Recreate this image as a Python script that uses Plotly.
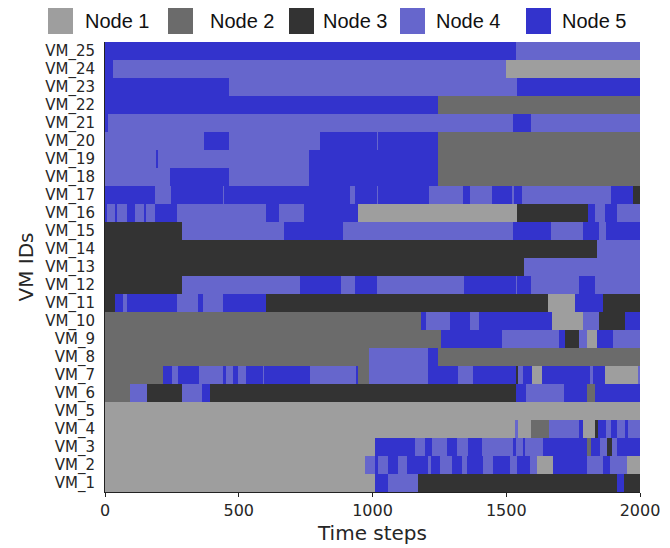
import plotly.graph_objects as go

# ---- data: each VM is a list of [start_time, node] change points (segment ends at next start or 2000)
T_END = 2000
node_names = ["Node 1", "Node 2", "Node 3", "Node 4", "Node 5"]
node_colors = ["#9e9e9e", "#6b6b6b", "#333333", "#6666cc", "#3333cc"]
vm_labels = [f"VM_{i}" for i in range(1, 26)]
x_ticks = [0, 500, 1000, 1500, 2000]

vm_1 = [[0, 1], [1009, 5], [1059, 4], [1171, 3], [1915, 5], [1940, 3]]
vm_2 = [[0, 1], [972, 4], [1009, 5], [1022, 4], [1059, 5], [1097, 4], [1130, 5], [1209, 4], [1217, 5],
        [1252, 4], [1296, 5], [1333, 4], [1352, 5], [1414, 4], [1452, 5], [1514, 4], [1539, 5], [1589, 4],
        [1614, 1], [1673, 5], [1800, 4], [1863, 5], [1888, 4], [1950, 1]]
vm_3 = [[0, 1], [1009, 5], [1159, 4], [1196, 5], [1221, 4], [1280, 5], [1317, 4], [1358, 5], [1408, 4],
        [1524, 5], [1535, 4], [1561, 5], [1570, 4], [1639, 5], [1800, 2], [1815, 5], [1850, 4], [1875, 3],
        [1894, 4], [1913, 5]]
vm_4 = [[0, 1], [1533, 4], [1545, 1], [1591, 2], [1661, 4], [1773, 5], [1786, 1], [1832, 3], [1844, 5],
        [1873, 4], [1890, 5], [1913, 4], [1944, 5], [1956, 4]]
vm_5 = [[0, 1]]
vm_6 = [[0, 2], [93, 4], [156, 3], [287, 4], [361, 5], [393, 3], [1536, 5], [1573, 4], [1716, 5],
        [1800, 2], [1832, 5]]
vm_7 = [[0, 2], [215, 5], [249, 4], [274, 5], [353, 4], [442, 5], [452, 4], [477, 5], [498, 4], [526, 5],
        [592, 4], [595, 5], [766, 4], [938, 5], [947, 2], [988, 4], [1209, 5], [1321, 4], [1377, 5],
        [1535, 3], [1545, 4], [1564, 5], [1595, 1], [1632, 5], [1813, 4], [1823, 5], [1869, 1], [1994, 4]]
vm_8 = [[0, 2], [987, 4], [1209, 5], [1246, 2]]
vm_9 = [[0, 2], [1255, 5], [1483, 4], [1698, 5], [1720, 3], [1773, 4], [1803, 1], [1840, 5], [1900, 4]]
vm_10 = [[0, 2], [1180, 5], [1200, 4], [1290, 5], [1364, 4], [1399, 5], [1670, 1], [1788, 4], [1848, 3],
         [1944, 5]]
vm_11 = [[0, 3], [37, 5], [69, 4], [83, 5], [268, 4], [346, 5], [368, 4], [442, 5], [600, 3], [1657, 1],
         [1757, 5], [1863, 3]]
vm_12 = [[0, 3], [287, 4], [729, 5], [881, 4], [935, 5], [1016, 4], [1342, 5], [1535, 4], [1541, 5],
         [1594, 4], [1773, 5], [1832, 4]]
vm_13 = [[0, 3], [1566, 4]]
vm_14 = [[0, 3], [1838, 4]]
vm_15 = [[0, 3], [287, 4], [669, 5], [888, 4], [1524, 5], [1667, 4], [1788, 5], [1848, 4], [1873, 5]]
vm_16 = [[0, 5], [8, 4], [37, 5], [46, 4], [83, 5], [112, 4], [146, 5], [152, 4], [187, 5], [268, 4],
         [600, 5], [650, 4], [744, 5], [947, 1], [1539, 3], [1807, 5], [1832, 4], [1869, 5], [1915, 4]]
vm_17 = [[0, 5], [187, 4], [245, 5], [441, 4], [446, 5], [916, 4], [935, 5], [1015, 4], [1021, 5],
         [1212, 4], [1340, 5], [1364, 4], [1445, 5], [1520, 4], [1529, 5], [1558, 4], [1890, 5], [1975, 3]]
vm_18 = [[0, 4], [243, 5], [465, 4], [764, 5], [1246, 2]]
vm_19 = [[0, 4], [194, 5], [199, 4], [764, 5], [1246, 2]]
vm_20 = [[0, 4], [371, 5], [465, 4], [804, 5], [1016, 4], [1022, 5], [1246, 2]]
vm_21 = [[0, 5], [12, 4], [1524, 5], [1594, 4]]
vm_22 = [[0, 5], [1246, 2]]
vm_23 = [[0, 5], [465, 4], [1540, 5]]
vm_24 = [[0, 5], [30, 4], [1500, 1]]
vm_25 = [[0, 5], [1535, 4]]

vm_series = [vm_1, vm_2, vm_3, vm_4, vm_5, vm_6, vm_7, vm_8, vm_9, vm_10, vm_11, vm_12, vm_13,
             vm_14, vm_15, vm_16, vm_17, vm_18, vm_19, vm_20, vm_21, vm_22, vm_23, vm_24, vm_25]

# ---- build segments per node
seg = {k: {"y": [], "base": [], "x": []} for k in range(1, 6)}
for label, changes in zip(vm_labels, vm_series):
    for i, (start, node) in enumerate(changes):
        end = changes[i + 1][0] if i + 1 < len(changes) else T_END
        seg[node]["y"].append(label)
        seg[node]["base"].append(start)
        seg[node]["x"].append(end - start)

fig = go.Figure()
for k in range(1, 6):
    fig.add_trace(go.Bar(
        orientation="h", y=seg[k]["y"], x=seg[k]["x"], base=seg[k]["base"],
        name=node_names[k - 1], marker=dict(color=node_colors[k - 1], line=dict(width=0)),
        width=1.0, showlegend=False,
    ))

# ---- custom legend (large square swatches)
L, R, T, B = 105, 30, 42, 56
W, H = 670, 548
pw, ph = W - L - R, H - T - B
sq_left = [48, 168, 289, 400, 526]
txt_left = [83, 208, 321, 434, 560]
shapes = []
annotations = []
for i in range(5):
    x0 = (sq_left[i] - L) / pw
    x1 = (sq_left[i] + 25 - L) / pw
    y0 = (H - B - 34) / ph
    y1 = (H - B - 8) / ph
    shapes.append(dict(type="rect", xref="paper", yref="paper", x0=x0, x1=x1, y0=y0, y1=y1,
                       fillcolor=node_colors[i], line=dict(width=0)))
    annotations.append(dict(xref="paper", yref="paper", x=(txt_left[i] - L) / pw, y=(H - B - 21) / ph,
                            xanchor="left", yanchor="middle", showarrow=False, text=node_names[i],
                            font=dict(family="Liberation Sans, Arial", size=20, color="#111111")))

fig.update_layout(
    width=W, height=H,
    margin=dict(l=L, r=R, t=T, b=B, autoexpand=False),
    paper_bgcolor="white", plot_bgcolor="white",
    barmode="overlay", bargap=0,
    shapes=shapes, annotations=annotations,
    font=dict(family="DejaVu Sans", color="#262626"),
)
fig.update_xaxes(
    range=[0, T_END], tickvals=x_ticks, ticktext=[str(v) for v in x_ticks],
    showline=True, linecolor="#222222", linewidth=1, ticks="outside", ticklen=4, tickcolor="#222222",
    showgrid=False, zeroline=False, tickfont=dict(size=16), automargin=False,
    title=dict(text="Time steps", font=dict(size=20), standoff=6),
)
fig.update_yaxes(
    type="category", categoryorder="array", categoryarray=vm_labels, range=[-0.5, 24.5],
    tickmode="array", tickvals=vm_labels, ticktext=vm_labels,
    showline=True, linecolor="#222222", linewidth=1, ticks="", ticklabelstandoff=6,
    showgrid=False, zeroline=False, tickfont=dict(size=15), automargin=False,
    title=dict(text="VM IDs", font=dict(size=20), standoff=6),
)

fig.write_html("out.html", config={"displayModeBar": False},
               post_script="document.body.style.margin='0';")
